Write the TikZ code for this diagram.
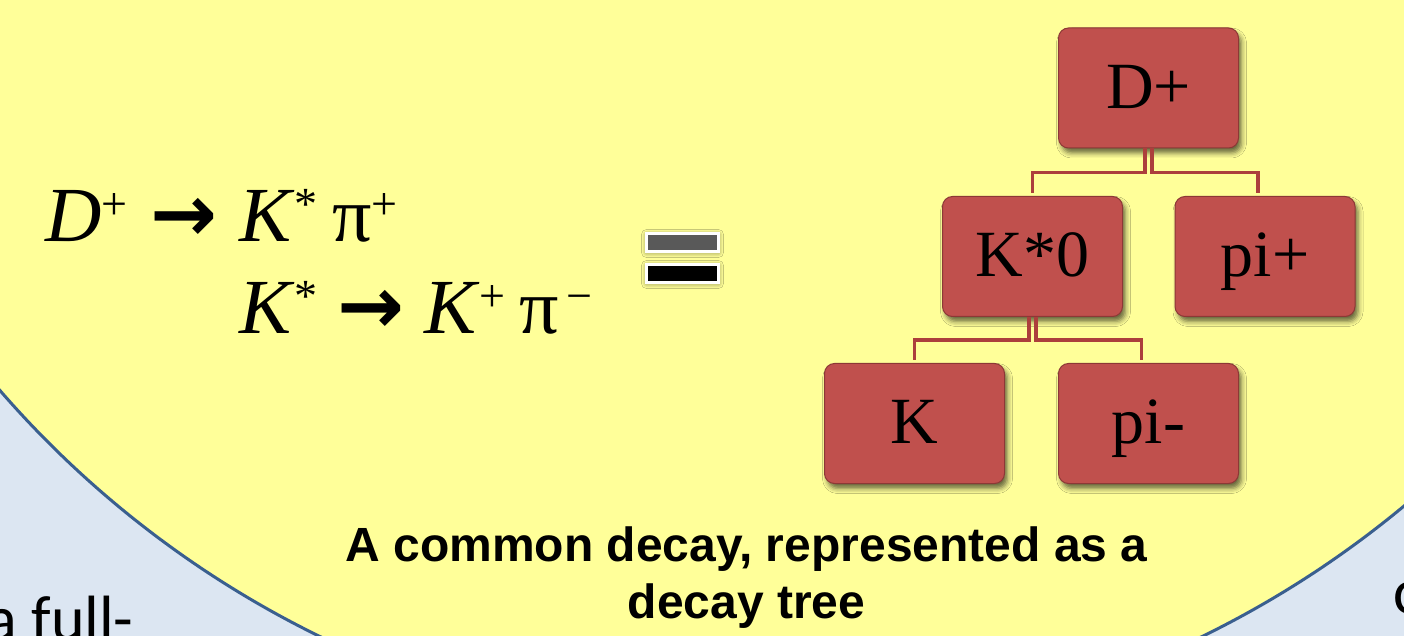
\documentclass[tikz,border=0pt]{standalone}
\usepackage{fontspec}
\setmainfont{Liberation Serif}
\newfontfamily\capfont{Liberation Sans}
\newfontfamily\bodyfont{Carlito}
\newfontfamily\arrowfont{DejaVu Sans}
\usetikzlibrary{shadows.blur}
\definecolor{slideyellow}{HTML}{FFFF99}
\definecolor{slideblue}{HTML}{DCE6F2}
\definecolor{rimblue}{HTML}{3A5F8F}
\definecolor{boxred}{HTML}{C0504D}
\definecolor{boxrim}{HTML}{8C3836}
\definecolor{linkred}{HTML}{AC3F3C}
\newcommand\psup[1]{\raisebox{11pt}{\fontsize{23}{23}\selectfont #1}}
\newcommand\decayarrow{{\arrowfont\bfseries\fontsize{40}{40}\selectfont →}}
\begin{document}
\begin{tikzpicture}[x=0.5pt,y=-0.5pt,
  particle/.style={draw=boxrim,line width=.5pt,fill=boxred,rounded corners=5pt,
    minimum width=90pt,minimum height=60pt,text height=22pt,text depth=1.5pt,
    font=\fontsize{33}{33}\selectfont,
    blur shadow={shadow xshift=1.5pt,shadow yshift=-2.5pt,shadow blur radius=2.5pt,shadow opacity=60}},
  link/.style={linkred,line width=1.8pt},
  bar/.style={draw=white,line width=1.5pt,minimum width=36pt,minimum height=9pt,inner sep=0pt,
    blur shadow={shadow xshift=0pt,shadow yshift=-.5pt,shadow blur radius=2.5pt,shadow opacity=55}},
  eqline/.style={anchor=base west,inner sep=0,font=\fontsize{39}{44}\selectfont}]
\useasboundingbox (0,0) rectangle (1404,636);
\clip (0,0) rectangle (1404,636);
\fill[slideblue] (0,0) rectangle (1404,636);
\filldraw[fill=slideyellow,draw=rimblue,line width=1.5pt] (761,-269) circle[radius=503.5pt];
% the two decays
\node[eqline] (line1) at (45,242)
  {\makebox[52.5pt][l]{\textit{D}\psup{+}}\makebox[44.5pt][l]{\decayarrow}\makebox[46.5pt][l]{\textit{K}\psup{*}}π\psup{+}};
\node[eqline] (line2) at (239,334)
  {\makebox[49pt][l]{\textit{K}\psup{*}}\makebox[43.5pt][l]{\decayarrow}\makebox[47.5pt][l]{\textit{K}\psup{+}}π\psup{\,−}};
% equals sign
\node[bar,fill=black!65] (eqtop) at (682.5,242.5) {};
\node[bar,fill=black] (eqbot) at (682.5,273.5) {};
% decay tree
\node[particle] (dp) at (1148.5,88) {D+};
\node[particle] (ks) at (1032.5,256.5) {K*0};
\node[particle] (pip) at (1265,256.5) {pi+};
\node[particle] (k) at (914.5,423.5) {K};
\node[particle] (pim) at (1148.5,423.5) {pi-};
\draw[link] ([xshift=-1.75pt]dp.south) -- ++(0,24) -| ([yshift=1.5pt]ks.north);
\draw[link] ([xshift=1.75pt]dp.south) -- ++(0,24) -| ([xshift=-3.5pt,yshift=1.5pt]pip.north);
\draw[link] ([xshift=-1.75pt]ks.south) -- ++(0,23) -| ([yshift=1.5pt]k.north);
\draw[link] ([xshift=1.75pt]ks.south) -- ++(0,23) -| ([xshift=-3.5pt,yshift=1.5pt]pim.north);
\node[anchor=base,align=center,font=\capfont\bfseries\fontsize{24}{28.5}\selectfont] (caption) at (746.5,618)
  {A common decay, represented as a\\decay tree};
\node[anchor=base west,inner sep=0,font=\bodyfont\fontsize{32}{32}\selectfont] (leftword) at (-14,640) {a full-};
\node[anchor=base west,inner sep=0,font=\bodyfont\fontsize{32}{32}\selectfont] (rightword) at (1393,613) {c};
\end{tikzpicture}
\end{document}
